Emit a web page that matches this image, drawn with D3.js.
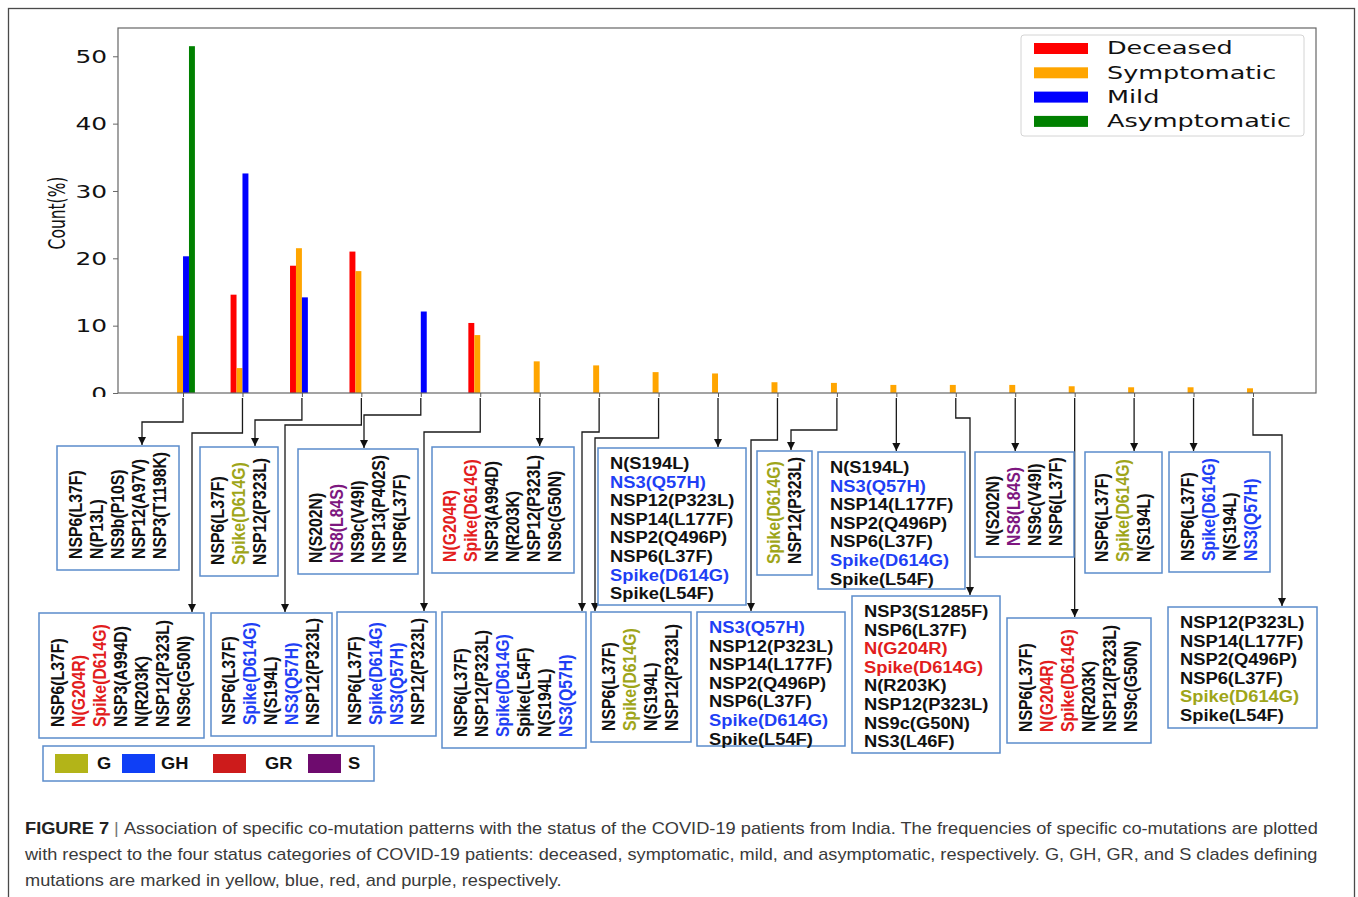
<!DOCTYPE html>
<html>
<head>
<meta charset="utf-8">
<script src="https://cdn.jsdelivr.net/npm/d3@7"></script>
<style>
  body { margin: 0; background: #fff; }
  svg { display: block; }
  .mut { font: bold 15.8px "Liberation Sans", Arial, sans-serif; }
  .mpl { font-family: "DejaVu Sans", sans-serif; }
  .cap { font-family: "Liberation Sans", Arial, sans-serif; font-size: 16px; fill: #3a3a3a; }
</style>
</head>
<body>
<div id="chart"></div>
<script>
// co-mutation pattern index (19 patterns along the x axis)
const categories = d3.range(1, 20).map(i => "P" + i);

// Count(%) per patient status
const deceased     = [0, 14.6, 18.9, 21.0, 0, 10.4, 0, 0, 0, 0, 0, 0, 0, 0, 0, 0, 0, 0, 0];
const symptomatic  = [8.5, 3.7, 21.5, 18.1, 0, 8.6, 4.7, 4.1, 3.1, 2.9, 1.6, 1.5, 1.2, 1.2, 1.2, 1.0, 0.85, 0.85, 0.7];
const mild         = [20.3, 32.6, 14.2, 0, 12.1, 0, 0, 0, 0, 0, 0, 0, 0, 0, 0, 0, 0, 0, 0];
const asymptomatic = [51.5, 0, 0, 0, 0, 0, 0, 0, 0, 0, 0, 0, 0, 0, 0, 0, 0, 0, 0];

const statusNames = ["Deceased", "Symptomatic", "Mild", "Asymptomatic"];
const yTicks = [0, 10, 20, 30, 40, 50];

// mutations of each pattern, "|clade" marks clade-defining ones
const patterns = [
  ["NSP6(L37F)", "N(P13L)", "NS9b(P10S)", "NSP12(A97V)", "NSP3(T1198K)"],
  ["NSP6(L37F)", "N(G204R)|GR", "Spike(D614G)|GR", "NSP3(A994D)", "N(R203K)", "NSP12(P323L)", "NS9c(G50N)"],
  ["NSP6(L37F)", "Spike(D614G)|G", "NSP12(P323L)"],
  ["NSP6(L37F)", "Spike(D614G)|GH", "N(S194L)", "NS3(Q57H)|GH", "NSP12(P323L)"],
  ["N(S202N)", "NS8(L84S)|S", "NS9c(V49I)", "NSP13(P402S)", "NSP6(L37F)"],
  ["NSP6(L37F)", "Spike(D614G)|GH", "NS3(Q57H)|GH", "NSP12(P323L)"],
  ["N(G204R)|GR", "Spike(D614G)|GR", "NSP3(A994D)", "N(R203K)", "NSP12(P323L)", "NS9c(G50N)"],
  ["NSP6(L37F)", "NSP12(P323L)", "Spike(D614G)|GH", "Spike(L54F)", "N(S194L)", "NS3(Q57H)|GH"],
  ["NSP6(L37F)", "Spike(D614G)|G", "N(S194L)", "NSP12(P323L)"],
  ["N(S194L)", "NS3(Q57H)|GH", "NSP12(P323L)", "NSP14(L177F)", "NSP2(Q496P)", "NSP6(L37F)", "Spike(D614G)|GH", "Spike(L54F)"],
  ["NS3(Q57H)|GH", "NSP12(P323L)", "NSP14(L177F)", "NSP2(Q496P)", "NSP6(L37F)", "Spike(D614G)|GH", "Spike(L54F)"],
  ["Spike(D614G)|G", "NSP12(P323L)"],
  ["N(S194L)", "NS3(Q57H)|GH", "NSP14(L177F)", "NSP2(Q496P)", "NSP6(L37F)", "Spike(D614G)|GH", "Spike(L54F)"],
  ["NSP3(S1285F)", "NSP6(L37F)", "N(G204R)|GR", "Spike(D614G)|GR", "N(R203K)", "NSP12(P323L)", "NS9c(G50N)", "NS3(L46F)"],
  ["N(S202N)", "NS8(L84S)|S", "NS9c(V49I)", "NSP6(L37F)"],
  ["NSP6(L37F)", "N(G204R)|GR", "Spike(D614G)|GR", "N(R203K)", "NSP12(P323L)", "NS9c(G50N)"],
  ["NSP6(L37F)", "Spike(D614G)|G", "N(S194L)"],
  ["NSP6(L37F)", "Spike(D614G)|GH", "N(S194L)", "NS3(Q57H)|GH"],
  ["NSP12(P323L)", "NSP14(L177F)", "NSP2(Q496P)", "NSP6(L37F)", "Spike(D614G)|G", "Spike(L54F)"]
];

const clades = ["G", "GH", "GR", "S"];

const captionLines = [
  "Association of specific co-mutation patterns with the status of the COVID-19 patients from India. The frequencies of specific co-mutations are plotted",
  "with respect to the four status categories of COVID-19 patients: deceased, symptomatic, mild, and asymptomatic, respectively. G, GH, GR, and S clades defining",
  "mutations are marked in yellow, blue, red, and purple, respectively."
];

// ---- layout / styling ----
const W = 1358, H = 897;
const statusColor = ["#ff0000", "#ffa500", "#0000ff", "#008000"];
const barOffset = [-0.2, -0.1, 0, 0.1];
const barW = 0.1;
const cladeText = { G: "#9ea519", GH: "#1f3ff5", GR: "#e21d1d", S: "#7d177f" };
const cladeSwatch = { G: "#b3b418", GH: "#0f3ff6", GR: "#cd1b1b", S: "#6e0b6e" };
const boxStroke = "#5b8ccb";
const boxStretch = 1.16;   // the pasted annotation is slightly wide
const mplStretch = 1.42;   // and the chart even more

// box per pattern; turn/to describe the elbow of the connector
const boxLayout = [
  { x: 57,   y: 446, w: 122, h: 124, rot: true,  turn: 422, to: 142 },
  { x: 39,   y: 613, w: 165, h: 125, rot: true,  turn: 433, to: 192 },
  { x: 200,  y: 447, w: 78,  h: 129, rot: true,  turn: 420, to: 255 },
  { x: 211,  y: 613, w: 121, h: 123, rot: true,  turn: 425, to: 285 },
  { x: 298,  y: 449, w: 120, h: 125, rot: true,  turn: 415, to: 364 },
  { x: 337,  y: 612, w: 99,  h: 124, rot: true,  turn: 432, to: 424 },
  { x: 432,  y: 447, w: 142, h: 126, rot: true },
  { x: 442,  y: 612, w: 144, h: 136, rot: true,  turn: 432, to: 582 },
  { x: 591,  y: 612, w: 100, h: 130, rot: true,  turn: 438, to: 595 },
  { x: 598,  y: 448, w: 148, h: 157, rot: false },
  { x: 697,  y: 612, w: 148, h: 134, rot: false, turn: 440, to: 751 },
  { x: 757,  y: 451, w: 55,  h: 124, rot: true,  turn: 430, to: 791 },
  { x: 818,  y: 452, w: 147, h: 137, rot: false },
  { x: 852,  y: 596, w: 148, h: 157, rot: false, turn: 418, to: 970 },
  { x: 975,  y: 452, w: 99,  h: 105, rot: true },
  { x: 1007, y: 618, w: 144, h: 125, rot: true },
  { x: 1085, y: 452, w: 77,  h: 121, rot: true },
  { x: 1169, y: 452, w: 101, h: 120, rot: true },
  { x: 1168, y: 607, w: 149, h: 121, rot: false, turn: 435, to: 1282 }
];

const svg = d3.select("#chart").append("svg")
  .attr("width", W)
  .attr("height", H);

svg.append("rect")
  .attr("width", W).attr("height", H).attr("fill", "#fff");

// outer frame of the figure
svg.append("rect")
  .attr("x", 8.5).attr("y", 8.5)
  .attr("width", 1346).attr("height", H + 10)
  .attr("fill", "none")
  .attr("stroke", "#4a4a4a")
  .attr("stroke-width", 1.3);

const defs = svg.append("defs");
defs.append("marker")
  .attr("id", "arrow")
  .attr("viewBox", "0 0 10 10")
  .attr("refX", 10).attr("refY", 5)
  .attr("markerWidth", 8).attr("markerHeight", 9)
  .attr("markerUnits", "userSpaceOnUse")
  .attr("orient", "auto")
  .append("path")
  .attr("d", "M0,0L10,5L0,10z")
  .attr("fill", "#111");

// the chart was pasted cut just under its axis
defs.append("clipPath").attr("id", "chartClip")
  .append("rect").attr("x", 0).attr("y", 0).attr("width", W).attr("height", 397);

// ---- bar chart ----
const plot = { left: 118, right: 1316, top: 28, bottom: 393 };

const x = d3.scaleLinear()
  .domain([-1.094, 19.06])
  .range([plot.left, plot.right]);

const y = d3.scaleLinear()
  .domain([0, 54.2])
  .range([plot.bottom, plot.top]);

const chart = svg.append("g").attr("clip-path", "url(#chartClip)");

const seriesValues = [deceased, symptomatic, mild, asymptomatic];
const bars = [];
seriesValues.forEach((vals, s) => {
  vals.forEach((v, i) => {
    if (v > 0) bars.push({ s, i, v });
  });
});

chart.selectAll("rect.bar")
  .data(bars)
  .join("rect")
  .attr("class", "bar")
  .attr("x", d => x(d.i + barOffset[d.s]))
  .attr("width", d => x(barW) - x(0))
  .attr("y", d => y(d.v))
  .attr("height", d => y(0) - y(d.v))
  .attr("fill", d => statusColor[d.s]);

// spines
chart.append("rect")
  .attr("x", plot.left).attr("y", plot.top)
  .attr("width", plot.right - plot.left)
  .attr("height", plot.bottom - plot.top)
  .attr("fill", "none")
  .attr("stroke", "#666")
  .attr("stroke-width", 1.2);

const yAxis = chart.append("g")
  .attr("transform", `translate(${plot.left},0)`)
  .call(d3.axisLeft(y).tickValues(yTicks).tickSize(5).tickFormat(d3.format("d")));
yAxis.select(".domain").remove();
yAxis.selectAll(".tick line").attr("stroke", "#666");
yAxis.selectAll(".tick text")
  .attr("class", "mpl")
  .attr("x", null).attr("dy", null)
  .attr("dominant-baseline", "central")
  .attr("transform", `translate(-11,0) scale(${mplStretch},1)`)
  .attr("font-size", 17.5)
  .attr("fill", "#111");

const xAxis = chart.append("g")
  .attr("transform", `translate(0,${plot.bottom})`)
  .call(d3.axisBottom(x).tickValues(d3.range(categories.length)).tickSize(4).tickFormat(""));
xAxis.select(".domain").remove();
xAxis.selectAll(".tick line").attr("stroke", "#555");

chart.append("text")
  .attr("class", "mpl")
  .attr("transform", `translate(57,213) scale(1.45,1) rotate(-90)`)
  .attr("text-anchor", "middle")
  .attr("dominant-baseline", "central")
  .attr("font-size", 15.5)
  .attr("fill", "#111")
  .text("Count(%)");

// status legend
const leg = chart.append("g");
leg.append("rect")
  .attr("x", 1021).attr("y", 35)
  .attr("width", 283).attr("height", 101)
  .attr("rx", 3)
  .attr("fill", "#fff")
  .attr("stroke", "#d4d4d4");
statusNames.forEach((name, k) => {
  const cy = 48.5 + k * 24.3;
  leg.append("rect")
    .attr("x", 1034).attr("y", cy - 5.5)
    .attr("width", 54).attr("height", 11)
    .attr("fill", statusColor[k]);
  leg.append("text")
    .attr("class", "mpl")
    .attr("transform", `translate(1107,${cy}) scale(1.5,1)`)
    .attr("dominant-baseline", "central")
    .attr("font-size", 17)
    .attr("fill", "#111")
    .text(name);
});

// ---- connectors from each bar group to its mutation box ----
const links = svg.append("g")
  .attr("fill", "none")
  .attr("stroke", "#1a1a1a")
  .attr("stroke-width", 1.3);

boxLayout.forEach((b, i) => {
  const x0 = x(i);
  let d;
  if (b.turn != null) {
    d = `M${x0},398V${b.turn}H${b.to}V${b.y - 1}`;
  } else {
    d = `M${x0},398V${b.y - 1}`;
  }
  links.append("path").attr("d", d).attr("marker-end", "url(#arrow)");
});

// ---- mutation boxes ----
function mutText(g, str, px, py, rot) {
  const [label, clade] = str.split("|");
  g.append("text")
    .attr("class", "mut")
    .attr("transform", `translate(${px},${py}) scale(${boxStretch},1)` + (rot ? " rotate(-90)" : ""))
    .attr("dominant-baseline", "central")
    .attr("fill", clade ? cladeText[clade] : "#111")
    .text(label);
}

const boxes = svg.append("g");
patterns.forEach((muts, i) => {
  const b = boxLayout[i];
  const g = boxes.append("g");
  g.append("rect")
    .attr("x", b.x).attr("y", b.y)
    .attr("width", b.w).attr("height", b.h)
    .attr("fill", "#fff")
    .attr("stroke", boxStroke)
    .attr("stroke-width", 1.5);
  if (b.rot) {
    const gap = 21;
    const cx = b.x + b.w / 2;
    muts.forEach((m, j) => {
      mutText(g, m, cx + (j - (muts.length - 1) / 2) * gap, b.y + b.h - 11, true);
    });
  } else {
    muts.forEach((m, j) => {
      mutText(g, m, b.x + 12, b.y + 16 + j * 18.6, false);
    });
  }
});

// ---- clade legend ----
const cl = svg.append("g");
cl.append("rect")
  .attr("x", 43).attr("y", 746)
  .attr("width", 331).attr("height", 35)
  .attr("fill", "#fff")
  .attr("stroke", boxStroke)
  .attr("stroke-width", 1.5);
const swatchX = [55, 122, 213, 308];
const labelX = [97, 161, 265, 348];
clades.forEach((c, k) => {
  cl.append("rect")
    .attr("x", swatchX[k]).attr("y", 754)
    .attr("width", 33).attr("height", 19)
    .attr("fill", cladeSwatch[c]);
  cl.append("text")
    .attr("class", "mut")
    .attr("transform", `translate(${labelX[k]},763.5) scale(${boxStretch},1)`)
    .attr("dominant-baseline", "central")
    .attr("fill", "#111")
    .text(c);
});

// ---- caption ----
const cap = svg.append("g");
const capY = [834, 860, 886];
const capTarget = [1293, 1293, null];
const scales = [];
captionLines.forEach((line, k) => {
  const t = cap.append("text").attr("class", "cap").attr("x", 0).attr("y", 0);
  if (k === 0) {
    t.append("tspan").attr("font-weight", "bold").attr("fill", "#222").text("FIGURE 7 ");
    t.append("tspan").attr("fill", "#777").text("| ");
  }
  t.append("tspan").text(line);
  const wNat = t.node().getComputedTextLength();
  let s = capTarget[k] ? capTarget[k] / wNat : d3.mean(scales);
  scales.push(s);
  t.attr("transform", `translate(25,${capY[k]}) scale(${s},1)`);
});
</script>
</body>
</html>
